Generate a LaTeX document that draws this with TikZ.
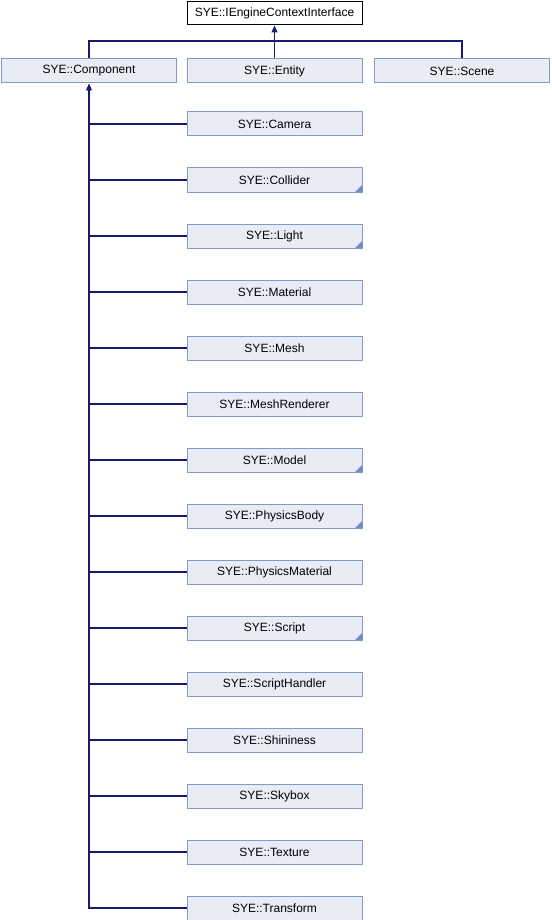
\documentclass[tikz,border=0pt]{standalone}
\usepackage{fontspec}
\setmainfont{Liberation Sans}
\usetikzlibrary{arrows.meta}
\definecolor{boxfill}{HTML}{E8ECF5}
\definecolor{boxdraw}{HTML}{8499C6}
\definecolor{edgecol}{HTML}{191970}
\definecolor{cornercol}{HTML}{7388C0}
\tikzset{
  cls/.style={draw=boxdraw, fill=boxfill, line width=1pt, minimum width=175pt, minimum height=24pt, inner sep=0pt, font=\fontsize{12}{14}\selectfont},
  topcls/.style={draw=black, fill=white, line width=1pt, minimum width=175pt, minimum height=23pt, inner sep=0pt, font=\fontsize{12}{14}\selectfont},
  edg/.style={draw=edgecol, line width=1.2pt},
  inh/.style={edg, {Triangle[length=7pt,width=6pt]}-},
}
\begin{document}
\begin{tikzpicture}[x=1pt,y=1pt]
\useasboundingbox (0,0) rectangle (551,-920);
\node[topcls] (top) at (274.5,-13.5) {SYE::IEngineContextInterface};
\node[cls] (comp) at (89,-71) {SYE::Component};
\node[cls] (ent) at (274.5,-71) {SYE::Entity};
\node[cls] (scene) at (462,-71) {SYE::Scene};
\coordinate (bus) at (274.5,-41);
\draw[inh] (top.south) -- (ent.north);
\draw[edg] (comp.north) |- (bus) -| (scene.north);
\foreach \name/\lbl [count=\i from 0] in {cam/Camera,col/Collider,lig/Light,mat/Material,mesh/Mesh,mr/MeshRenderer,mod/Model,pb/PhysicsBody,pm/PhysicsMaterial,scr/Script,sh/ScriptHandler,shi/Shininess,sky/Skybox,tex/Texture,tr/Transform}{
  \node[cls] (\name) at (274.5,{-124-56*\i}) {SYE::\lbl};
  \draw[edg] (\name.west) -| (89,-100);
}
\draw[inh] (comp.south) -- (89,-100);
\foreach \name in {col,lig,mod,pb,scr}{
  \fill[cornercol] ([shift={(-0.5,0.5)}]\name.south east) -- ++(-7,0) -- ++(7,7) -- cycle;
}
\end{tikzpicture}
\end{document}
